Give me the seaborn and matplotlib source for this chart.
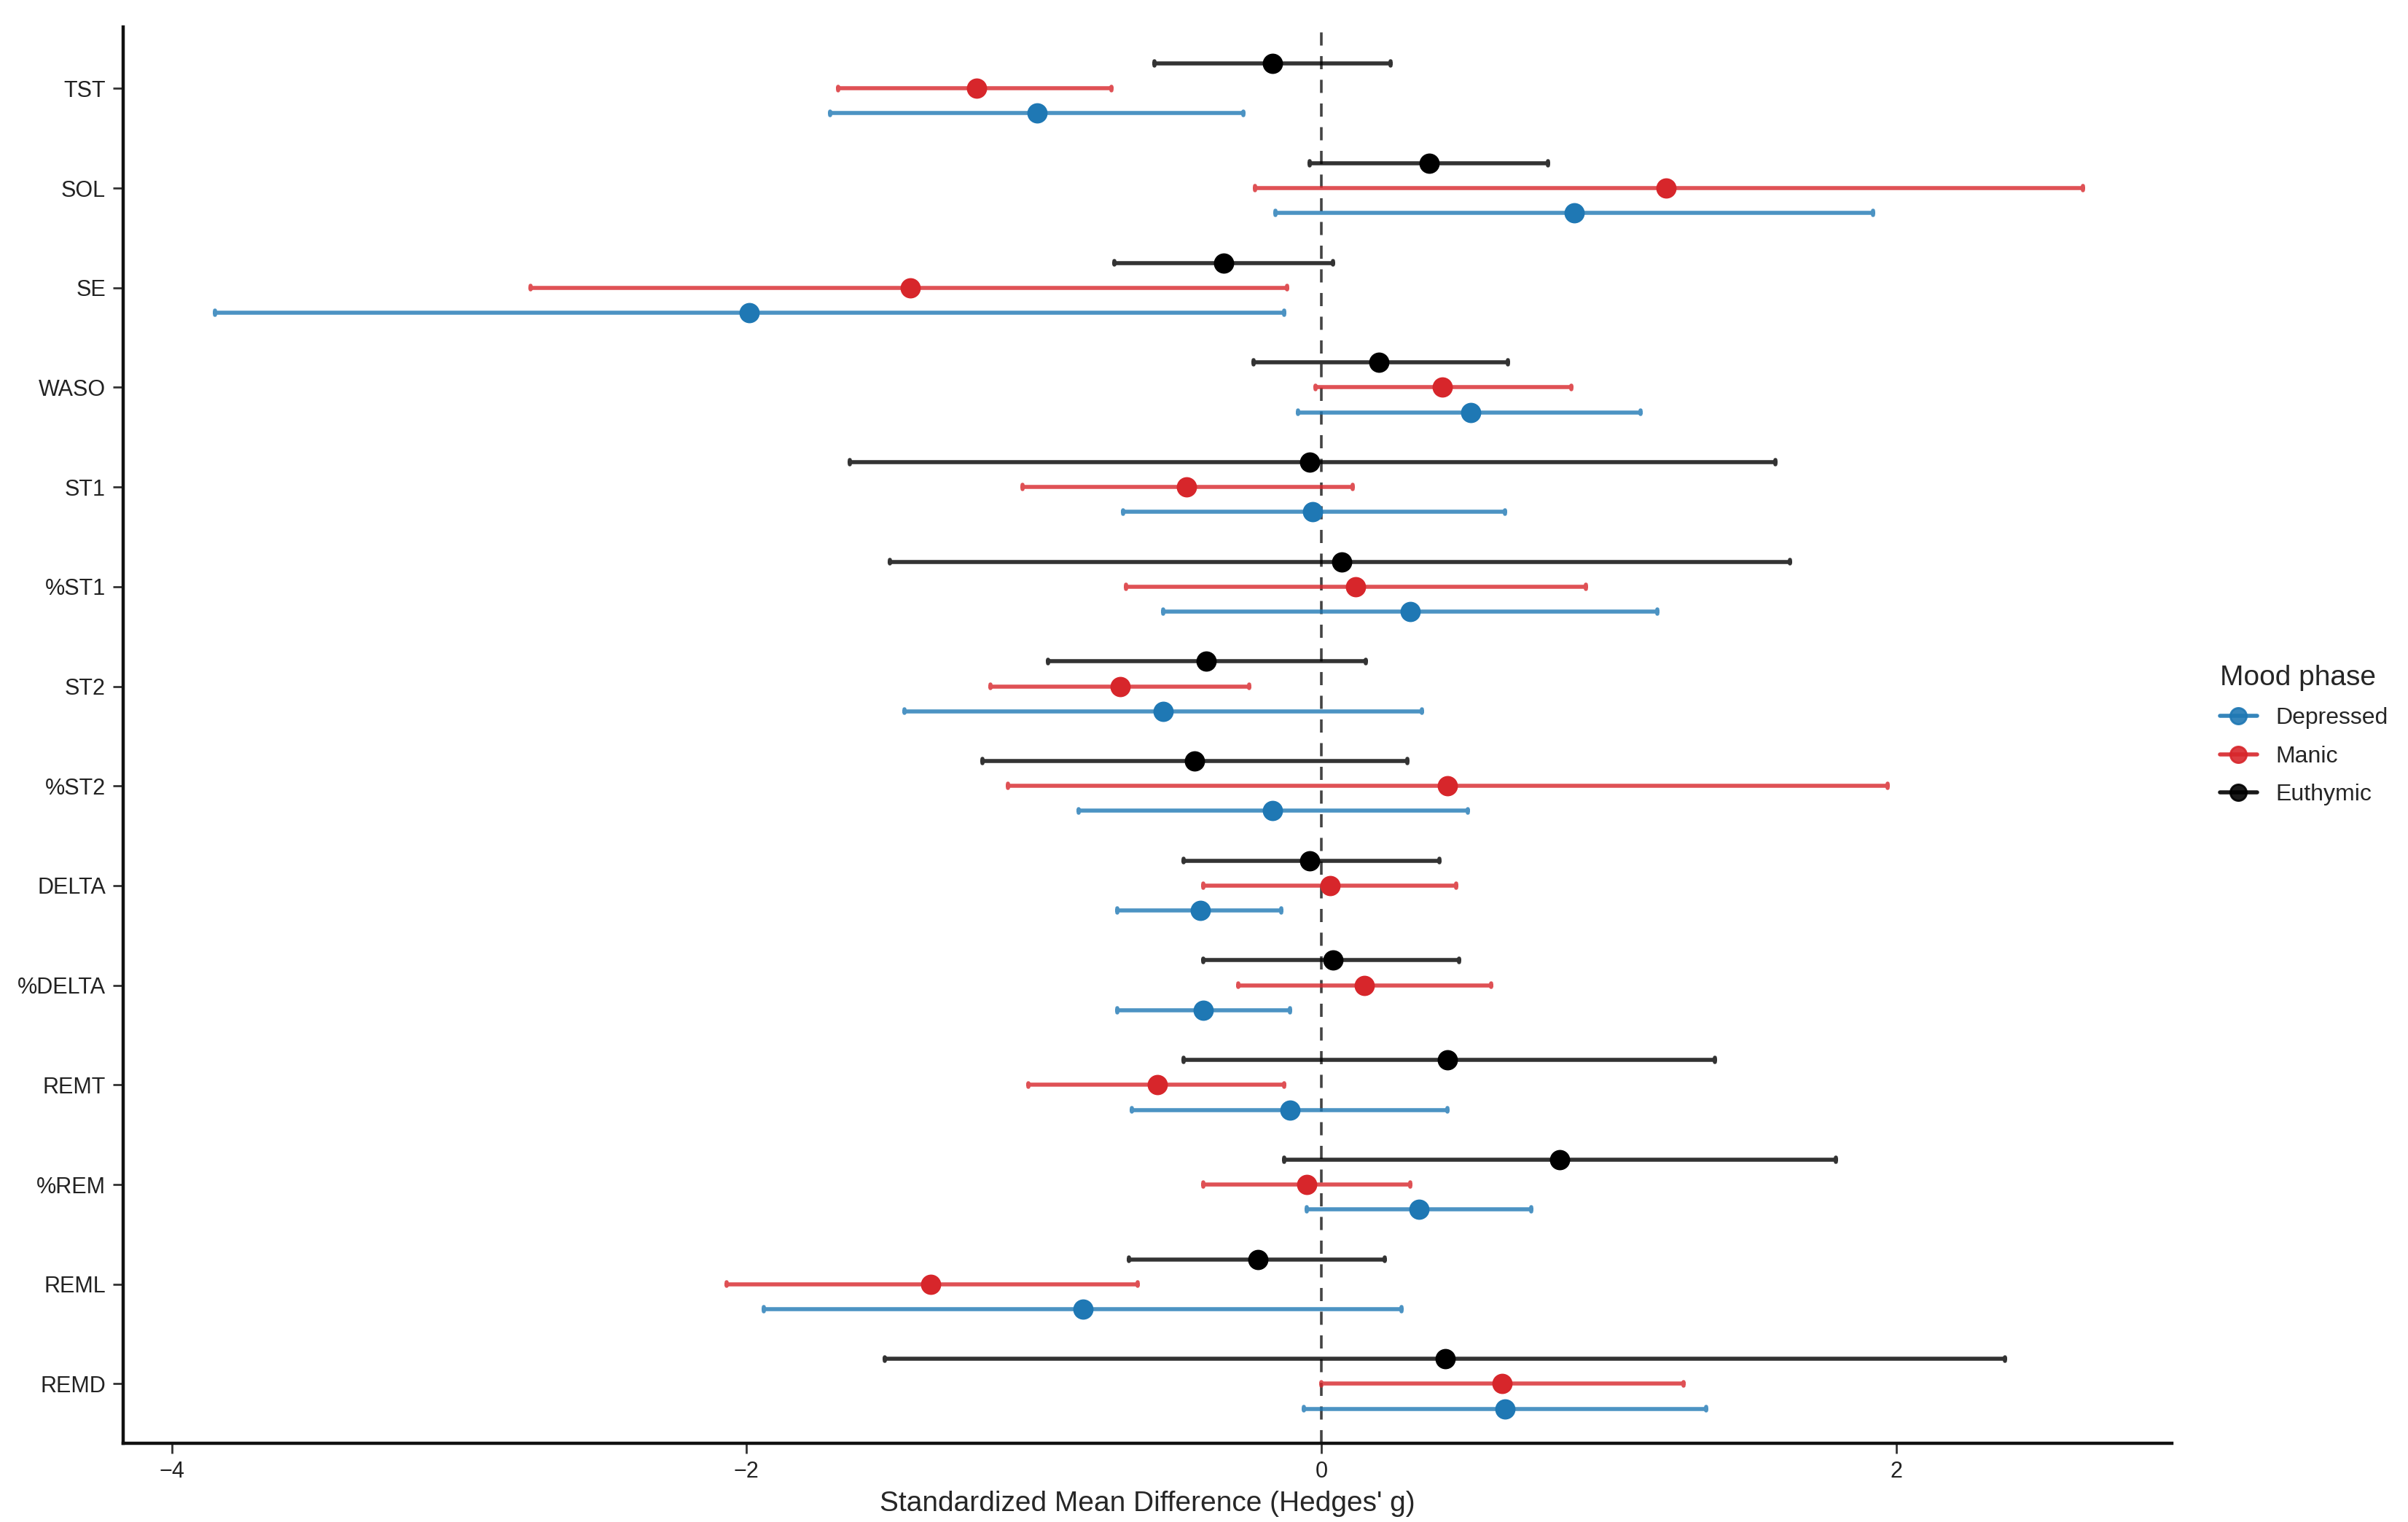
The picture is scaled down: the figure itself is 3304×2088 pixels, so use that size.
import numpy as np
import pandas as pd
import seaborn as sns
import matplotlib.pyplot as plt
from matplotlib.lines import Line2D

# Sleep measures, top to bottom
measures = ["TST", "SOL", "SE", "WASO", "ST1", "%ST1", "ST2", "%ST2",
            "DELTA", "%DELTA", "REMT", "%REM", "REML", "REMD"]

# Hedges' g and 95% CI per mood phase
euth_g  = [-0.17, 0.375, -0.34, 0.20, -0.04, 0.07, -0.40, -0.44, -0.04, 0.04, 0.44, 0.83, -0.22, 0.43]
euth_lo = [-0.58, -0.04, -0.72, -0.235, -1.64, -1.50, -0.95, -1.18, -0.48, -0.41, -0.48, -0.13, -0.67, -1.52]
euth_hi = [0.24, 0.79, 0.04, 0.65, 1.58, 1.63, 0.155, 0.30, 0.41, 0.48, 1.37, 1.79, 0.22, 2.38]

man_g  = [-1.20, 1.20, -1.43, 0.42, -0.47, 0.12, -0.70, 0.44, 0.03, 0.15, -0.57, -0.05, -1.36, 0.63]
man_lo = [-1.68, -0.23, -2.75, -0.02, -1.04, -0.68, -1.15, -1.09, -0.41, -0.29, -1.02, -0.41, -2.07, 0.0]
man_hi = [-0.73, 2.65, -0.12, 0.87, 0.11, 0.92, -0.25, 1.97, 0.47, 0.59, -0.13, 0.31, -0.64, 1.26]

dep_g  = [-0.99, 0.88, -1.99, 0.52, -0.03, 0.31, -0.55, -0.17, -0.42, -0.41, -0.11, 0.34, -0.83, 0.64]
dep_lo = [-1.71, -0.16, -3.85, -0.08, -0.69, -0.55, -1.45, -0.845, -0.71, -0.71, -0.66, -0.05, -1.94, -0.06]
dep_hi = [-0.27, 1.92, -0.13, 1.11, 0.64, 1.17, 0.35, 0.51, -0.14, -0.11, 0.44, 0.73, 0.28, 1.34]

phases = ["Euthymic", "Manic", "Depressed"]
legend_order = ["Depressed", "Manic", "Euthymic"]
colors = {"Depressed": "#1f78b4", "Manic": "#d7262b", "Euthymic": "black"}

# long table: lo / estimate / hi for each measure and phase -> median = estimate, range = CI
rows = []
for phase, g, lo, hi in [("Euthymic", euth_g, euth_lo, euth_hi),
                         ("Manic", man_g, man_lo, man_hi),
                         ("Depressed", dep_g, dep_lo, dep_hi)]:
    for m, a, b, c in zip(measures, lo, g, hi):
        for v in (a, b, c):
            rows.append({"measure": m, "phase": phase, "g": v})
df = pd.DataFrame(rows)

sns.set_style("ticks")
plt.rcParams["font.family"] = ["Liberation Sans", "DejaVu Sans"]

fig = plt.figure(figsize=(16.52, 10.44), dpi=200)
ax = fig.add_axes([0.051, 0.0515, 0.851, 0.931])

ax.axvline(0, color="#444444", linestyle=(0, (5, 4)), linewidth=1.3, zorder=0)

sns.pointplot(data=df, x="g", y="measure", hue="phase", order=measures,
              hue_order=phases, palette=colors, estimator="median",
              errorbar=("pi", 100), dodge=0.5, linestyle="none",
              markers="o", markersize=8, capsize=0.04,
              err_kws={"linewidth": 2.0, "alpha": 0.8}, ax=ax)

ax.set_xlim(-4.17, 2.96)
ax.set_ylim(13.6, -0.62)
ax.set_xticks([-4, -2, 0, 2])
ax.set_xlabel("Standardized Mean Difference (Hedges' g)", fontsize=14)
ax.set_ylabel("")
ax.tick_params(axis="both", labelsize=11, length=5, width=1, colors="#333333",
               labelcolor="#222222")
for s in ["top", "right"]:
    ax.spines[s].set_visible(False)
for s in ["left", "bottom"]:
    ax.spines[s].set_linewidth(1.6)
    ax.spines[s].set_color("#111111")

# legend keys drawn as point + line, like the reference
handles = [Line2D([], [], color=colors[p], marker="o", markersize=8,
                  linewidth=2.0, alpha=0.9) for p in legend_order]
ax.legend(handles, legend_order,
          title="Mood phase", frameon=False, loc="center left",
          bbox_to_anchor=(1.013, 0.50), fontsize=11.5, title_fontsize=14,
          handlelength=1.6, labelspacing=0.7, alignment="left")

fig.savefig("out.png", dpi=200, facecolor="white")
